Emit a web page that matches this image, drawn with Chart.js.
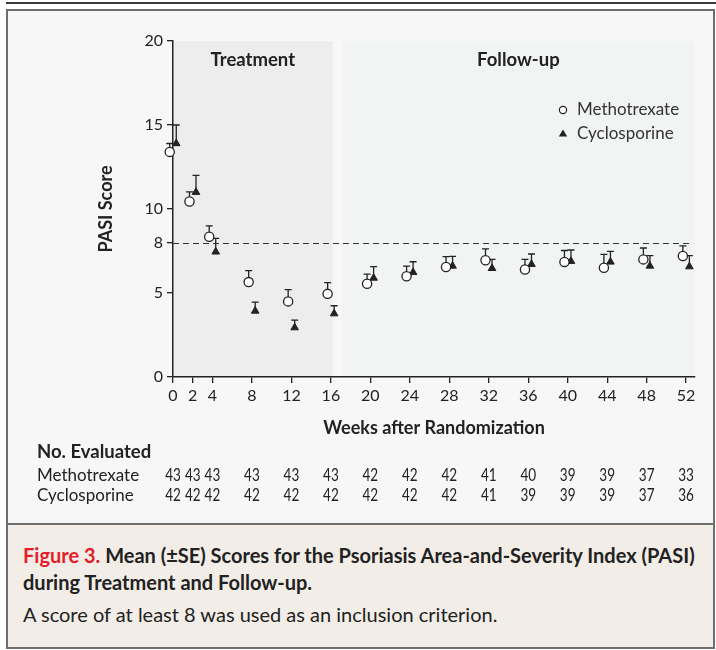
<!DOCTYPE html>
<html>
<head>
<meta charset="utf-8">
<script src="https://cdn.jsdelivr.net/npm/chart.js@4.4.1/dist/chart.umd.min.js"></script>
<style>
html,body{margin:0;padding:0;width:716px;height:650px;overflow:hidden;background:#ffffff;font-family:Lato,sans-serif;color:#222;}
#topline{position:absolute;left:6px;top:2px;width:710px;height:2px;background:#3a3a3a;}
#frame{position:absolute;left:6px;top:9px;width:705px;height:636px;border:2px solid #6e6e6e;background:#f7f7f7;}
#wrap{position:absolute;left:0;top:0;width:716px;height:522px;}
#caption{position:absolute;left:8px;top:523px;width:705px;height:122px;background:#f2ede7;border-top:2px solid #6e6e6e;}
#caption .t{position:absolute;left:15px;top:17px;font-weight:bold;font-size:20px;line-height:27px;color:#222;white-space:nowrap;}
#caption .t span{color:#e3202a;}
#caption .s{position:absolute;left:15px;top:77px;font-size:20px;line-height:24px;color:#222;white-space:nowrap;}
</style>
</head>
<body>
<div id="topline"></div>
<div id="frame"></div>
<div id="wrap"><canvas id="c" width="716" height="522"></canvas></div>
<div id="caption">
  <div class="t"><span>Figure 3.</span> Mean (±SE) Scores for the Psoriasis Area-and-Severity Index (PASI)<br>during Treatment and Follow-up.</div>
  <div class="s">A score of at least 8 was used as an inclusion criterion.</div>
</div>
<script>
// ---- data ----
const weeks = [0, 2, 4, 8, 12, 16, 20, 24, 28, 32, 36, 40, 44, 48, 52];
const mtxMean = [13.4, 10.45, 8.35, 5.65, 4.5, 4.95, 5.55, 6.0, 6.55, 6.95, 6.4, 6.85, 6.5, 7.0, 7.2];
const mtxSE   = [0.5, 0.57, 0.64, 0.68, 0.7, 0.67, 0.57, 0.6, 0.62, 0.68, 0.6, 0.68, 0.8, 0.68, 0.6];
const cycMean = [13.9, 11.0, 7.45, 3.93, 2.94, 3.77, 5.89, 6.23, 6.61, 6.47, 6.71, 6.89, 6.85, 6.61, 6.57];
const cycSE   = [1.1, 1.0, 0.8, 0.53, 0.45, 0.47, 0.68, 0.63, 0.57, 0.53, 0.61, 0.67, 0.63, 0.61, 0.65];
const nMtx = [43, 43, 43, 43, 43, 43, 42, 42, 42, 41, 40, 39, 39, 37, 33];
const nCyc = [42, 42, 42, 42, 42, 42, 42, 42, 42, 41, 39, 39, 39, 37, 36];
const yTicks = [0, 5, 8, 10, 15, 20];
const seriesNames = ['Methotrexate', 'Cyclosporine'];
const threshold = 8;
const treatmentEnd = 16;

// ---- styles ----
const INK = '#222';
const FONT = 'Lato, sans-serif';
const jitter = 0.33; // horizontal dodge of the two series, in weeks

function pts(mean, dx) { return weeks.map((w, i) => ({ x: w + dx, y: mean[i] })); }

const backgroundPlugin = {
  id: 'bg',
  beforeDraw(chart) {
    const { ctx, scales: { x, y } } = chart;
    const top = y.getPixelForValue(20), bot = y.getPixelForValue(0);
    ctx.save();
    ctx.fillStyle = '#ededed';
    ctx.fillRect(x.getPixelForValue(0), top, x.getPixelForValue(treatmentEnd + 0.18) - x.getPixelForValue(0), bot - top);
    ctx.fillStyle = '#f2f4f4';
    const fs = x.getPixelForValue(treatmentEnd + 1.1);
    ctx.fillRect(fs, top, x.right - fs, bot - top);
    ctx.restore();
  },
  beforeDatasetsDraw(chart) {
    const { ctx, scales: { x, y } } = chart;
    ctx.save();
    // dashed threshold
    ctx.strokeStyle = '#333';
    ctx.lineWidth = 1.2;
    ctx.setLineDash([6, 4]);
    ctx.beginPath();
    const yy = Math.round(y.getPixelForValue(threshold)) + 0.5;
    ctx.moveTo(x.getPixelForValue(0), yy);
    ctx.lineTo(x.getPixelForValue(52.4), yy);
    ctx.stroke();
    ctx.setLineDash([]);
    // error bars (upper only)
    ctx.strokeStyle = INK;
    ctx.lineWidth = 1.3;
    const sets = [[mtxMean, mtxSE, -jitter], [cycMean, cycSE, jitter]];
    sets.forEach(([m, se, dx]) => {
      weeks.forEach((w, i) => {
        const px = x.getPixelForValue(w + dx);
        const p0 = y.getPixelForValue(m[i]);
        const p1 = y.getPixelForValue(m[i] + se[i]);
        ctx.beginPath();
        ctx.moveTo(px, p0); ctx.lineTo(px, p1);
        ctx.moveTo(px - 3.5, p1); ctx.lineTo(px + 3.5, p1);
        ctx.stroke();
      });
    });
    ctx.restore();
  },
  afterDraw(chart) {
    const { ctx, scales: { x, y } } = chart;
    ctx.save();
    ctx.fillStyle = INK;
    ctx.textBaseline = 'middle';
    // region labels
    ctx.font = 'bold 18.5px ' + FONT;
    ctx.textAlign = 'center';
    ctx.fillText('Treatment', (x.getPixelForValue(0) + x.getPixelForValue(treatmentEnd + 0.18)) / 2, 60);
    ctx.fillText('Follow-up', (x.getPixelForValue(treatmentEnd + 1.1) + x.right) / 2, 60);
    // legend
    ctx.textAlign = 'left';
    ctx.font = '17px ' + FONT;
    ctx.fillStyle = '#333';
    ctx.fillText(chart.data.datasets[0].label, 577, 110);
    ctx.fillText(chart.data.datasets[1].label, 577, 134);
    ctx.strokeStyle = INK; ctx.lineWidth = 1.2; ctx.fillStyle = '#fff';
    ctx.beginPath(); ctx.arc(563, 110, 3.6, 0, Math.PI * 2); ctx.fill(); ctx.stroke();
    ctx.fillStyle = INK;
    ctx.beginPath(); ctx.moveTo(563, 129.5); ctx.lineTo(567.2, 136.5); ctx.lineTo(558.8, 136.5); ctx.closePath(); ctx.fill();
    // number-evaluated table
    ctx.fillStyle = INK;
    ctx.font = 'bold 18.5px ' + FONT;
    ctx.fillText('No. Evaluated', 37, 452);
    ctx.font = '17px ' + FONT;
    ctx.fillText(seriesNames[0], 37, 476);
    ctx.fillText(seriesNames[1], 37, 496);
    ctx.textAlign = 'center';
    ctx.font = '16.5px ' + FONT;
    weeks.forEach((w, i) => {
      const px = x.getPixelForValue(w);
      [[nMtx[i], 476], [nCyc[i], 496]].forEach(([n, yy]) => {
        ctx.save();
        ctx.translate(px, yy);
        ctx.scale(0.82, 1);
        ctx.fillText(String(n), 0, 0);
        ctx.restore();
      });
    });
    ctx.restore();
  }
};

new Chart(document.getElementById('c'), {
  type: 'scatter',
  data: {
    datasets: [
      { label: seriesNames[0], data: pts(mtxMean, -jitter), pointStyle: 'circle', pointRadius: 4.6, pointHoverRadius: 4.6,
        backgroundColor: '#ffffff', borderColor: INK, borderWidth: 1.3, clip: false },
      { label: seriesNames[1], data: pts(cycMean, jitter), pointStyle: 'triangle', pointRadius: 4.4, pointHoverRadius: 4.4,
        backgroundColor: INK, borderColor: INK, borderWidth: 1, clip: false }
    ]
  },
  options: {
    responsive: false,
    animation: false,
    events: [],
    layout: { padding: { left: 95, top: 41, right: 21, bottom: 83 } },
    plugins: { legend: { display: false }, tooltip: { enabled: false } },
    scales: {
      x: {
        type: 'linear', min: 0, max: 52.9,
        afterBuildTicks: s => { s.ticks = weeks.map(v => ({ value: v })); },
        afterFit: s => { s.height = 62; },
        ticks: { autoSkip: false, maxRotation: 0, padding: 3, color: INK, font: { family: FONT, size: 16 } },
        grid: { drawOnChartArea: false, drawTicks: true, tickLength: 6, color: INK, lineWidth: 1.3 },
        border: { display: true, color: INK, width: 1.5 },
        title: { display: true, text: 'Weeks after Randomization', color: INK, padding: 0, font: { family: FONT, size: 18, weight: 'bold' } }
      },
      y: {
        type: 'linear', min: 0, max: 20,
        afterBuildTicks: s => { s.ticks = yTicks.map(v => ({ value: v })); },
        afterFit: s => { s.width = 78; },
        ticks: { padding: 4, color: INK, font: { family: FONT, size: 16 } },
        grid: { drawOnChartArea: false, drawTicks: true, tickLength: 6, color: INK, lineWidth: 1.3 },
        border: { display: true, color: INK, width: 1.5 },
        title: { display: true, text: 'PASI Score', color: INK, padding: 0, font: { family: FONT, size: 18, weight: 'bold' } }
      }
    }
  },
  plugins: [backgroundPlugin]
});
</script>
</body>
</html>
